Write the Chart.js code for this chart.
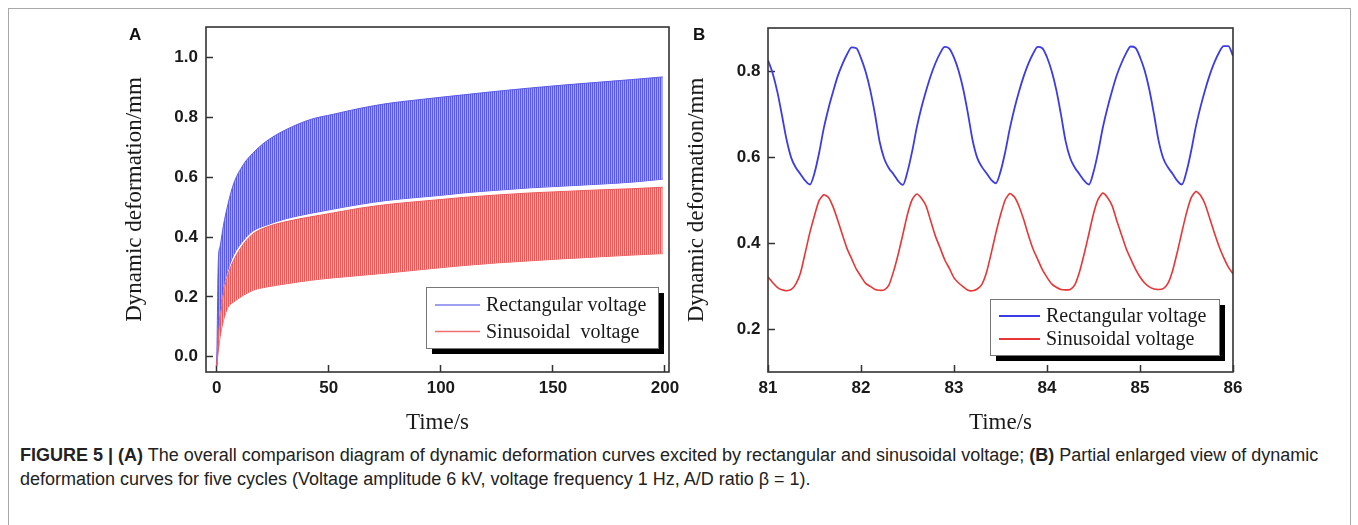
<!DOCTYPE html>
<html>
<head>
<meta charset="utf-8">
<script src="https://cdn.jsdelivr.net/npm/chart.js@4.4.1/dist/chart.umd.min.js"></script>
<style>
  html, body { margin: 0; padding: 0; background: #fff; }
  body { width: 1358px; height: 525px; position: relative; overflow: hidden; }
  #frame { position: absolute; left: 8px; top: 8px; width: 1341px; height: 540px; border: 1px solid #a8a8a8; }
  canvas { position: absolute; top: 0; }
  #chartA { left: 0; }
  #chartB { left: 660px; }
  .panel { position: absolute; top: 26px; font: bold 17px "Liberation Sans", Arial, sans-serif; line-height: 17px; color: #111; }
  #caption { position: absolute; left: 20px; top: 443px; font: 18px "Liberation Sans", Arial, sans-serif; line-height: 24px; color: #222; white-space: nowrap; }
</style>
</head>
<body>
<div id="frame"></div>
<canvas id="chartA" width="685" height="440"></canvas>
<canvas id="chartB" width="590" height="440"></canvas>
<div class="panel" style="left:129px">A</div>
<div class="panel" style="left:693px">B</div>
<div id="caption"><b>FIGURE 5 | (A)</b> The overall comparison diagram of dynamic deformation curves excited by rectangular and sinusoidal voltage; <b>(B)</b> Partial enlarged view of dynamic<br>deformation curves for five cycles (Voltage amplitude 6 kV, voltage frequency 1 Hz, A/D ratio &beta; = 1).</div>
<script>
// panel A: upper / lower envelope of the 1 Hz oscillation
const aTime = [0, 0.7, 1.5, 3, 5, 7.5, 12, 16, 22, 31, 42, 52, 64, 76, 88, 100, 110, 125, 140, 155, 170, 185, 199];
const aRectTop = [-0.03, 0.32, 0.37, 0.44, 0.51, 0.578, 0.644, 0.68, 0.72, 0.76, 0.794, 0.811, 0.831, 0.847, 0.858, 0.868, 0.876, 0.888, 0.899, 0.909, 0.918, 0.927, 0.936];
const aRectBottom = [-0.03, 0.08, 0.15, 0.23, 0.29, 0.34, 0.39, 0.42, 0.44, 0.462, 0.48, 0.494, 0.51, 0.523, 0.532, 0.54, 0.548, 0.557, 0.565, 0.571, 0.577, 0.584, 0.594];
const aSineTop = [-0.03, 0.067, 0.122, 0.211, 0.275, 0.322, 0.378, 0.41, 0.433, 0.452, 0.468, 0.481, 0.497, 0.509, 0.518, 0.526, 0.533, 0.541, 0.548, 0.553, 0.558, 0.562, 0.567];
const aSineBottom = [-0.03, 0.02, 0.067, 0.122, 0.165, 0.183, 0.206, 0.222, 0.233, 0.244, 0.256, 0.264, 0.272, 0.280, 0.289, 0.298, 0.305, 0.314, 0.321, 0.328, 0.334, 0.340, 0.345];
const aXTicks = [0, 50, 100, 150, 200];
const aYTicks = [0, 0.2, 0.4, 0.6, 0.8, 1.0];
const aLabels = ["Rectangular voltage", "Sinusoidal  voltage"];

// panel B: five cycles, 81 s to 86 s
const bTime = [
  81.00, 81.05, 81.10, 81.15, 81.20, 81.25, 81.30, 81.35, 81.40, 81.45, 81.50, 81.55, 81.60, 81.65, 81.70, 81.75, 81.80, 81.85, 81.90, 81.95,
  82.00, 82.05, 82.10, 82.15, 82.20, 82.25, 82.30, 82.35, 82.40, 82.45, 82.50, 82.55, 82.60, 82.65, 82.70, 82.75, 82.80, 82.85, 82.90, 82.95,
  83.00, 83.05, 83.10, 83.15, 83.20, 83.25, 83.30, 83.35, 83.40, 83.45, 83.50, 83.55, 83.60, 83.65, 83.70, 83.75, 83.80, 83.85, 83.90, 83.95,
  84.00, 84.05, 84.10, 84.15, 84.20, 84.25, 84.30, 84.35, 84.40, 84.45, 84.50, 84.55, 84.60, 84.65, 84.70, 84.75, 84.80, 84.85, 84.90, 84.95,
  85.00, 85.05, 85.10, 85.15, 85.20, 85.25, 85.30, 85.35, 85.40, 85.45, 85.50, 85.55, 85.60, 85.65, 85.70, 85.75, 85.80, 85.85, 85.90, 85.95,
  86.00
];
const bRect = [
  0.825, 0.795, 0.752, 0.697, 0.640, 0.598, 0.575, 0.560, 0.545, 0.536, 0.563, 0.610, 0.667, 0.713, 0.752, 0.788, 0.816, 0.839, 0.855, 0.853,
  0.830, 0.798, 0.755, 0.700, 0.636, 0.596, 0.574, 0.560, 0.544, 0.535, 0.566, 0.613, 0.669, 0.715, 0.754, 0.789, 0.818, 0.841, 0.856, 0.852,
  0.831, 0.800, 0.757, 0.701, 0.639, 0.598, 0.577, 0.562, 0.547, 0.539, 0.566, 0.611, 0.666, 0.713, 0.753, 0.788, 0.817, 0.840, 0.856, 0.853,
  0.832, 0.800, 0.756, 0.699, 0.637, 0.597, 0.575, 0.560, 0.545, 0.536, 0.565, 0.612, 0.668, 0.714, 0.754, 0.790, 0.818, 0.841, 0.857, 0.854,
  0.832, 0.801, 0.757, 0.700, 0.638, 0.597, 0.576, 0.561, 0.545, 0.536, 0.566, 0.614, 0.670, 0.716, 0.756, 0.791, 0.820, 0.843, 0.858, 0.858,
  0.835
];
const bSine = [
  0.321, 0.308, 0.297, 0.291, 0.289, 0.292, 0.305, 0.331, 0.377, 0.424, 0.464, 0.499, 0.512, 0.506, 0.484, 0.453, 0.419, 0.387, 0.363, 0.339,
  0.322, 0.306, 0.299, 0.292, 0.290, 0.291, 0.302, 0.334, 0.374, 0.420, 0.467, 0.501, 0.514, 0.504, 0.486, 0.451, 0.416, 0.389, 0.361, 0.341,
  0.319, 0.307, 0.298, 0.290, 0.289, 0.293, 0.304, 0.332, 0.376, 0.423, 0.465, 0.500, 0.515, 0.507, 0.485, 0.454, 0.418, 0.386, 0.362, 0.338,
  0.320, 0.305, 0.297, 0.292, 0.291, 0.292, 0.303, 0.333, 0.375, 0.421, 0.468, 0.502, 0.516, 0.506, 0.487, 0.452, 0.420, 0.388, 0.363, 0.340,
  0.321, 0.307, 0.298, 0.293, 0.292, 0.294, 0.306, 0.335, 0.378, 0.425, 0.470, 0.505, 0.520, 0.511, 0.490, 0.457, 0.423, 0.392, 0.366, 0.344,
  0.328
];
const bXTicks = [81, 82, 83, 84, 85, 86];
const bYTicks = [0.2, 0.4, 0.6, 0.8];
const bLabels = ["Rectangular voltage", "Sinusoidal voltage"];

const tickFont = { family: "'Liberation Sans', Arial, sans-serif", size: 17, weight: "bold" };
const titleFont = { family: "'Liberation Serif', 'Times New Roman', serif", size: 23 };
const legendFont = "20px 'Liberation Serif', 'Times New Roman', serif";

function pts(xs, ys) {
  return xs.map((x, i) => ({ x: x, y: ys[i] }));
}

function stripes(ctx, c1, c2) {
  const p = document.createElement("canvas");
  p.width = 2;
  p.height = 1;
  const g = p.getContext("2d");
  g.fillStyle = c1;
  g.fillRect(0, 0, 1, 1);
  g.fillStyle = c2;
  g.fillRect(1, 0, 1, 1);
  return ctx.createPattern(p, "repeat");
}

function zeroPad(s) {
  s.paddingLeft = 0;
  s.paddingRight = 0;
  s.paddingTop = 0;
  s.paddingBottom = 0;
}

function axes(c) {
  return {
    x: {
      type: "linear", min: c.xMin, max: c.xMax,
      afterBuildTicks: s => { s.ticks = c.xTicks.map(v => ({ value: v })); },
      afterFit: s => { s.height = c.xHeight; zeroPad(s); },
      border: { display: false },
      grid: { drawOnChartArea: false, tickLength: -7, tickWidth: 1.5, color: "#333" },
      ticks: { font: tickFont, color: "#1a1a1a", padding: c.xPad, maxRotation: 0, autoSkip: false, callback: v => String(v) },
      title: { display: true, text: "Time/s", font: titleFont, color: "#1a1a1a", padding: { top: 0, bottom: 3 } }
    },
    y: {
      type: "linear", min: c.yMin, max: c.yMax,
      afterBuildTicks: s => { s.ticks = c.yTicks.map(v => ({ value: v })); },
      afterFit: s => { s.width = c.yWidth; zeroPad(s); },
      border: { display: false },
      grid: { drawOnChartArea: false, tickLength: -7, tickWidth: 1.5, color: "#333" },
      ticks: { font: tickFont, color: "#1a1a1a", padding: c.yPad, autoSkip: false, callback: v => v.toFixed(1) },
      title: { display: true, text: "Dynamic deformation/mm", font: titleFont, color: "#1a1a1a", padding: { top: c.yTitlePad, bottom: 0 } }
    }
  };
}

const frameBox = {
  id: "frameBox",
  afterDatasetsDraw(chart) {
    const { ctx, chartArea: a } = chart;
    ctx.save();
    ctx.strokeStyle = "#333";
    ctx.lineWidth = 1.6;
    ctx.strokeRect(a.left, a.top, a.right - a.left, a.bottom - a.top);
    ctx.restore();
  }
};

// legend box with drop shadow, entries taken from the datasets
function boxLegend(cfg) {
  return {
    id: "boxLegend",
    afterDraw(chart) {
      const ctx = chart.ctx;
      ctx.save();
      ctx.fillStyle = "#000";
      ctx.fillRect(cfg.x + 6, cfg.y + 6, cfg.w, cfg.h);
      ctx.fillStyle = "#fff";
      ctx.fillRect(cfg.x, cfg.y, cfg.w, cfg.h);
      ctx.strokeStyle = "#777";
      ctx.lineWidth = 1;
      ctx.strokeRect(cfg.x + 0.5, cfg.y + 0.5, cfg.w, cfg.h);
      ctx.font = legendFont;
      ctx.textBaseline = "middle";
      ctx.textAlign = "left";
      cfg.items.forEach((idx, i) => {
        const ds = chart.data.datasets[idx];
        const y = cfg.y + cfg.rows[i];
        ctx.strokeStyle = ds.legendColor || ds.borderColor;
        ctx.lineWidth = cfg.lineWidth;
        ctx.beginPath();
        ctx.moveTo(cfg.x + cfg.line[0], y);
        ctx.lineTo(cfg.x + cfg.line[1], y);
        ctx.stroke();
        ctx.fillStyle = "#1a1a1a";
        ctx.fillText(ds.label, cfg.x + cfg.textX, y + 1);
      });
      ctx.restore();
    }
  };
}

const commonPlugins = { legend: { display: false }, tooltip: { enabled: false } };

const ctxA = document.getElementById("chartA").getContext("2d");
new Chart(ctxA, {
  type: "line",
  data: {
    datasets: [
      { label: aLabels[1], data: pts(aTime, aSineTop), borderColor: "#ee5a5a", legendColor: "#f07070", backgroundColor: stripes(ctxA, "#ee5656", "#f8b2b2"), borderWidth: 1, fill: "+1", pointRadius: 0, cubicInterpolationMode: "monotone" },
      { label: "", data: pts(aTime, aSineBottom), borderColor: "#ee5a5a", borderWidth: 1, fill: false, pointRadius: 0, cubicInterpolationMode: "monotone" },
      { label: aLabels[0], data: pts(aTime, aRectTop), borderColor: "#5a5aea", legendColor: "#8080ee", backgroundColor: stripes(ctxA, "#5858ea", "#a2a2f6"), borderWidth: 1, fill: "+1", pointRadius: 0, cubicInterpolationMode: "monotone" },
      { label: "", data: pts(aTime, aRectBottom), borderColor: "#5a5aea", borderWidth: 1, fill: false, pointRadius: 0, cubicInterpolationMode: "monotone" }
    ]
  },
  options: {
    responsive: false,
    animation: false,
    layout: { padding: { left: 0, top: 27, right: 16, bottom: 0 } },
    scales: axes({ xMin: -4.8, xMax: 201.8, xTicks: aXTicks, yMin: -0.051, yMax: 1.103, yTicks: aYTicks, yWidth: 206, xHeight: 68, xPad: 13.5, yPad: 15, yTitlePad: 121 }),
    plugins: commonPlugins
  },
  plugins: [frameBox, boxLegend({ x: 426, y: 287, w: 232, h: 61, items: [2, 0], rows: [18, 44.5], line: [9, 54], textX: 60, lineWidth: 1.3 })]
});

const ctxB = document.getElementById("chartB").getContext("2d");
new Chart(ctxB, {
  type: "line",
  data: {
    datasets: [
      { label: bLabels[0], data: pts(bTime, bRect), borderColor: "#3b3be8", borderWidth: 1.8, fill: false, pointRadius: 0, cubicInterpolationMode: "monotone" },
      { label: bLabels[1], data: pts(bTime, bSine), borderColor: "#e83535", borderWidth: 1.6, fill: false, pointRadius: 0, tension: 0.2 }
    ]
  },
  options: {
    responsive: false,
    animation: false,
    layout: { padding: { left: 0, top: 28, right: 17, bottom: 0 } },
    scales: axes({ xMin: 81, xMax: 86, xTicks: bXTicks, yMin: 0.1, yMax: 0.9, yTicks: bYTicks, yWidth: 108, xHeight: 68, xPad: 13, yPad: 14.6, yTitlePad: 23 }),
    plugins: commonPlugins
  },
  plugins: [frameBox, boxLegend({ x: 330, y: 299, w: 229, h: 56, items: [0, 1], rows: [17, 40], line: [9, 50], textX: 56, lineWidth: 2 })]
});
</script>
</body>
</html>
